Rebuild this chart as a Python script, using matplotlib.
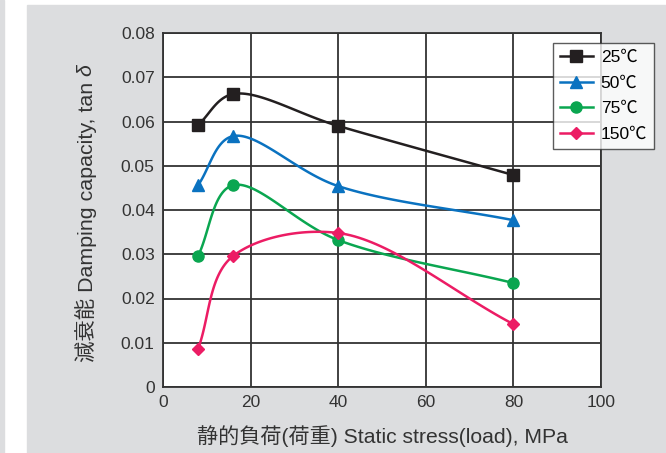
import numpy as np
import matplotlib
matplotlib.use("Agg")
import matplotlib.pyplot as plt
from matplotlib.patches import Rectangle

plt.rcParams['font.family'] = ['Liberation Sans', 'Noto Sans CJK JP', 'DejaVu Sans']

stress = [8, 16, 40, 80]
temps = ['25℃', '50℃', '75℃', '150℃']
tan_25 = [0.0592, 0.0662, 0.0590, 0.0479]
tan_50 = [0.0456, 0.0567, 0.0454, 0.0377]
tan_75 = [0.0296, 0.0456, 0.0332, 0.0235]
tan_150 = [0.0086, 0.0296, 0.0348, 0.0142]

colors = ['#231f20', '#0a72c0', '#0aa650', '#ec1c64']
markers = ['s', '^', 'o', 'D']
msizes = [8, 8, 8, 6]

XMAX, YMAX = 100, 0.08
TXT = '#333333'


def smooth(xs, ys, n=40, alpha=0.5):
    # centripetal Catmull-Rom through the points, in axis-normalised space
    p = np.column_stack([np.asarray(xs) / XMAX, np.asarray(ys) / YMAX])
    p = np.vstack([2 * p[0] - p[1], p, 2 * p[-1] - p[-2]])
    out = []
    for i in range(1, len(p) - 2):
        p0, p1, p2, p3 = p[i - 1], p[i], p[i + 1], p[i + 2]
        t0 = 0.0
        t1 = t0 + np.linalg.norm(p1 - p0) ** alpha
        t2 = t1 + np.linalg.norm(p2 - p1) ** alpha
        t3 = t2 + np.linalg.norm(p3 - p2) ** alpha
        t = np.linspace(t1, t2, n)[:, None]
        a1 = (t1 - t) / (t1 - t0) * p0 + (t - t0) / (t1 - t0) * p1
        a2 = (t2 - t) / (t2 - t1) * p1 + (t - t1) / (t2 - t1) * p2
        a3 = (t3 - t) / (t3 - t2) * p2 + (t - t2) / (t3 - t2) * p3
        b1 = (t2 - t) / (t2 - t0) * a1 + (t - t0) / (t2 - t0) * a2
        b2 = (t3 - t) / (t3 - t1) * a2 + (t - t1) / (t3 - t1) * a3
        c = (t2 - t) / (t2 - t1) * b1 + (t - t1) / (t2 - t1) * b2
        out.append(c)
    c = np.vstack(out)
    return c[:, 0] * XMAX, c[:, 1] * YMAX


fig = plt.figure(figsize=(6.66, 4.53), dpi=100, facecolor='white')
bg = '#dcdddf'
fig.patches.append(Rectangle((0, 0), 4 / 666, 1, transform=fig.transFigure,
                             color=bg, zorder=-5))
fig.patches.append(Rectangle((27 / 666, 0), 1, 1 - 5 / 453, transform=fig.transFigure,
                             color=bg, zorder=-5))

ax = fig.add_axes([163 / 666, 1 - 387 / 453, 438 / 666, 354 / 453])
ax.set_facecolor('white')

for vals, lab, c, m, ms in zip([tan_25, tan_50, tan_75, tan_150], temps,
                               colors, markers, msizes):
    sx, sy = smooth(stress, vals)
    ax.plot(sx, sy, color=c, lw=1.8, zorder=3, solid_capstyle='round')
    ax.plot(stress, vals, linestyle='none', marker=m, ms=ms, color=c, zorder=4)
    ax.plot([], [], color=c, lw=1.8, marker=m, ms=ms, label=lab)

ax.set_xlim(0, XMAX)
ax.set_ylim(0, YMAX)
ax.set_xticks(np.arange(0, 101, 20))
ax.set_yticks(np.arange(0, 0.081, 0.01))
ax.set_yticklabels(['0'] + ['%.2f' % v for v in np.arange(0.01, 0.081, 0.01)])
ax.grid(True, color=TXT, lw=1.3)
ax.set_axisbelow(True)
for s in ax.spines.values():
    s.set_color(TXT)
    s.set_linewidth(1.3)
ax.tick_params(length=0, labelsize=12.5, labelcolor=TXT, pad=6)

fig.text(382 / 666, 1 - 436 / 453, '静的負荷(荷重) Static stress(load), MPa',
         ha='center', va='center', fontsize=15.2, color=TXT)

# y label: plain text plus an italic delta placed right after it
ylab = fig.text(86 / 666, 1 - 362 / 453, '減衰能 Damping capacity, tan ',
                rotation=90, ha='center', va='bottom', fontsize=15.4, color=TXT)
fig.canvas.draw()
bb = ylab.get_window_extent().transformed(fig.transFigure.inverted())
fig.text(86 / 666, bb.y1, 'δ', rotation=90, ha='center', va='bottom',
         fontsize=15.4, style='italic', color=TXT)

leg = ax.legend(loc='upper left', bbox_to_anchor=(553 / 666, 1 - 43 / 453),
                bbox_transform=fig.transFigure, frameon=True, fancybox=False,
                borderaxespad=0, fontsize=12.5, handlelength=1.9, borderpad=0.4,
                labelspacing=0.6, handletextpad=0.45)
leg.get_frame().set_edgecolor(TXT)
leg.get_frame().set_linewidth(1.0)
leg.set_zorder(10)

fig.savefig('out.png', dpi=100, facecolor=fig.get_facecolor())
